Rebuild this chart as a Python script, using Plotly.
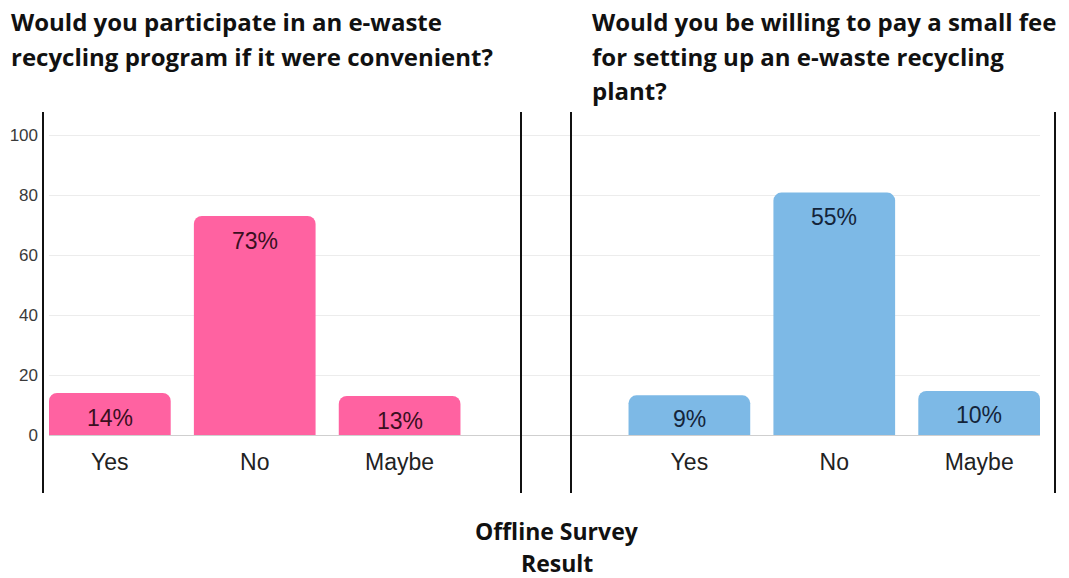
import plotly.graph_objects as go

# Survey answers
categories = ["Yes", "No", "Maybe"]
participate_pct = [14, 73, 13]
pay_fee_pct = [9, 55, 10]

title_left = ["Would you participate in an e-waste",
              "recycling program if it were convenient?"]
title_right = ["Would you be willing to pay a small fee",
               "for setting up an e-waste recycling",
               "plant?"]
footer = ["Offline Survey", "Result"]

y_ticks = [0, 20, 40, 60, 80, 100]

PINK = "#FF62A1"
BLUE = "#7DB9E6"
W, H = 1069, 578

# left group sits on slots 0..2, right group on slots 4..6
left_x = list(range(len(categories)))
right_x = [i + len(categories) + 1 for i in range(len(categories))]

# the fee panel is drawn on its own (hidden) value axis
right_top_equiv = 80.8  # height on the shared grid that the "No" bar reaches
right_scale = max(pay_fee_pct) / right_top_equiv

fig = go.Figure()
fig.add_trace(go.Bar(
    x=left_x, y=participate_pct, marker=dict(color=PINK, line=dict(width=0)),
    width=0.84, hoverinfo="skip", yaxis="y", showlegend=False))
fig.add_trace(go.Bar(
    x=right_x, y=pay_fee_pct, marker=dict(color=BLUE, line=dict(width=0)),
    width=0.84, hoverinfo="skip", yaxis="y2", showlegend=False))

y_range = [-3.33, 106.67]
for xs, vals, ax, col, shift in [(left_x, participate_pct, "y", "#3a0f1f", -25),
                                 (right_x, pay_fee_pct, "y2", "#14243a", -24)]:
    for xv, v in zip(xs, vals):
        fig.add_annotation(x=xv, y=v, xref="x", yref=ax, text=f"{v}%",
                           showarrow=False, yanchor="middle", yshift=shift,
                           font=dict(family="Liberation Sans", size=23, color=col))

# panel frame lines
def px_x(p):
    return p / W

def px_y(p):
    return 1 - p / H

for xp in [43, 521, 571, 1055]:
    fig.add_shape(type="line", xref="paper", yref="paper",
                  x0=px_x(xp), x1=px_x(xp), y0=px_y(112), y1=px_y(493),
                  line=dict(color="#111111", width=2))

title_font = dict(family="Open Sans", size=24, color="#111111", weight=700)
for i, line in enumerate(title_left):
    fig.add_annotation(x=px_x(9), y=px_y(21 + 35 * i), xref="paper", yref="paper",
                       text=line, showarrow=False, xanchor="left", yanchor="middle",
                       font=title_font)
for i, line in enumerate(title_right):
    fig.add_annotation(x=px_x(590), y=px_y(21 + 35 * i), xref="paper", yref="paper",
                       text=line, showarrow=False, xanchor="left", yanchor="middle",
                       font=title_font)
for i, line in enumerate(footer):
    fig.add_annotation(x=px_x(557), y=px_y(531 + 32 * i), xref="paper", yref="paper",
                       text=line, showarrow=False, xanchor="center", yanchor="middle",
                       font=dict(family="Open Sans", size=23, color="#111111", weight=700))

dom_y = [px_y(445), px_y(115)]
fig.update_layout(
    width=W, height=H, margin=dict(l=0, r=0, t=0, b=0),
    paper_bgcolor="white", plot_bgcolor="white",
    barcornerradius=8,
    xaxis=dict(domain=[px_x(49), px_x(1040)], range=[-0.42, 6.42],
               tickvals=left_x + right_x, ticktext=categories + categories,
               showgrid=False, zeroline=False, showline=False, ticks="",
               tickfont=dict(family="Liberation Sans", size=23, color="#222222"),
               ticklabelstandoff=1),
    yaxis=dict(domain=dom_y, range=y_range, tickvals=y_ticks,
               showgrid=True, gridcolor="#ececec", gridwidth=1,
               zeroline=True, zerolinecolor="#cfcfcf", zerolinewidth=1,
               showline=False, ticks="",
               tickfont=dict(family="Liberation Sans", size=17, color="#3a3a3a"),
               ticklabelstandoff=10),
    yaxis2=dict(domain=dom_y, overlaying="y",
                range=[y_range[0] * right_scale, y_range[1] * right_scale],
                showgrid=False, zeroline=False, showticklabels=False,
                showline=False, ticks=""),
)

fig.write_html("out.html")
